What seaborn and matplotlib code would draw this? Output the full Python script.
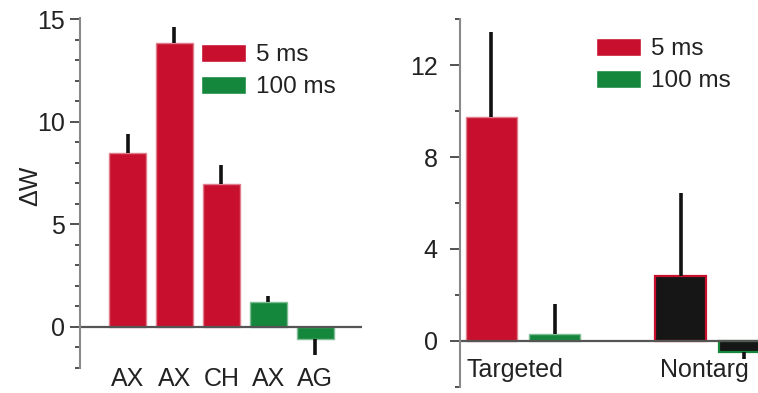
import numpy as np
import pandas as pd
import matplotlib
matplotlib.use("Agg")
import matplotlib.pyplot as plt
import seaborn as sns
from matplotlib.ticker import MultipleLocator
from matplotlib.transforms import ScaledTranslation
from matplotlib.colors import to_rgb

# ---------------- data ----------------
left_labels = ["AX", "AX", "CH", "AX", "AG"]
left_values = [8.45, 13.85, 6.95, 1.2, -0.6]
left_err = [0.95, 0.75, 0.95, 0.32, 0.76]
left_duration = ["5 ms", "5 ms", "5 ms", "100 ms", "100 ms"]

right_groups = ["Targeted", "Targeted", "Nontarg", "Nontarg"]
right_duration = ["5 ms", "100 ms", "5 ms", "100 ms"]
right_values = [9.75, 0.29, 2.84, -0.51]
right_err = [3.68, 1.31, 3.59, 0.28]

durations = ["5 ms", "100 ms"]
group_order = ["Targeted", "Nontarg"]

RED = "#C8102E"
GREEN = "#15873C"
palette = {"5 ms": RED, "100 ms": GREEN}
TXT = "#222222"

sns.set_theme(style="ticks")
plt.rcParams["font.family"] = ["Liberation Sans", "DejaVu Sans"]
plt.rcParams["text.color"] = TXT
plt.rcParams["axes.labelcolor"] = TXT
plt.rcParams["xtick.color"] = TXT
plt.rcParams["ytick.color"] = TXT

fig = plt.figure(figsize=(7.58, 3.93), dpi=100)
axL = fig.add_axes([80 / 758, 25 / 393, 282 / 758, 350 / 393])
axR = fig.add_axes([460 / 758, 6.3 / 393, 298 / 758, 367.4 / 393])

ldf = pd.DataFrame({"pos": list(range(len(left_values))), "value": left_values,
                    "duration": left_duration})
rdf = pd.DataFrame({"group": right_groups, "value": right_values,
                    "duration": right_duration})

sns.barplot(data=ldf, x="pos", y="value", hue="duration", hue_order=durations,
            palette=palette, dodge=False, width=0.79, errorbar=None,
            saturation=1, ax=axL)
sns.barplot(data=rdf, x="group", y="value", hue="duration", order=group_order,
            hue_order=durations, palette=palette, width=0.667, gap=0.19,
            errorbar=None, saturation=1, ax=axR)


def lighter(c, f=0.45):
    r, g, b = to_rgb(c)
    return (r + (1 - r) * f, g + (1 - g) * f, b + (1 - b) * f)


def sorted_bars(ax):
    bars = [b for c in ax.containers for b in c
            if np.isfinite(b.get_height()) and b.get_width() > 0]
    return sorted(bars, key=lambda b: b.get_x() + b.get_width() / 2)


def add_err(ax, bars, values, errs):
    for b, v, e in zip(bars, values, errs):
        x = b.get_x() + b.get_width() / 2
        yerr = [[0], [e]] if v >= 0 else [[e], [0]]
        ax.errorbar([x], [v], yerr=yerr, fmt="none", ecolor="#111111",
                    elinewidth=2.6, capsize=0, zorder=1)


barsL = sorted_bars(axL)
for b in barsL:
    b.set_edgecolor(lighter(b.get_facecolor()))
    b.set_linewidth(1.0)
add_err(axL, barsL, left_values, left_err)

barsR = sorted_bars(axR)
for b, g in zip(barsR, right_groups):
    fc = b.get_facecolor()
    if g == "Nontarg":
        b.set_edgecolor(fc)
        b.set_facecolor("#161616")
        b.set_linewidth(1.6)
    else:
        b.set_edgecolor(lighter(fc))
        b.set_linewidth(1.0)
add_err(axR, barsR, right_values, right_err)

# axes styling
for ax in (axL, axR):
    for s in ("top", "right", "bottom"):
        ax.spines[s].set_visible(False)
    ax.spines["left"].set_color("#8a8a8a")
    ax.spines["left"].set_linewidth(1.5)
    ax.axhline(0, color="#555555", lw=1.6, zorder=1.5)
    ax.tick_params(axis="y", which="major", direction="out", length=7,
                   width=1.2, colors="#333333", labelsize=18, labelcolor=TXT)
    ax.tick_params(axis="y", which="minor", direction="out", length=3.5,
                   width=1.2, colors="#333333")
    ax.set_xlabel("")

axL.set_ylim(-2, 15.05)
axL.set_xlim(-1.013, 5.0)
axL.yaxis.set_major_locator(MultipleLocator(5))
axL.yaxis.set_minor_locator(MultipleLocator(1))
axL.tick_params(axis="y", which="major", pad=3.8)
axL.set_xticks(range(len(left_labels)))
axL.set_xticklabels(left_labels)
axL.tick_params(axis="x", length=0, pad=-0.5, labelsize=18, labelcolor=TXT)
axL.set_ylabel("ΔW", fontsize=18)
axL.yaxis.set_label_coords(-0.135, 0.52)

axR.set_ylim(-2, 14)
axR.set_xlim(-0.332, 1.240)
axR.yaxis.set_major_locator(MultipleLocator(4))
axR.yaxis.set_minor_locator(MultipleLocator(2))
axR.tick_params(axis="y", which="major", pad=9.0)
axR.set_ylabel("")
axR.tick_params(axis="x", length=0, pad=-20.5, labelsize=18, labelcolor=TXT)

# legends
for ax, anchor in ((axL, (201 / 758, 1 - 44 / 393)), (axR, (596 / 758, 1 - 38 / 393))):
    h, l = ax.get_legend_handles_labels()
    ax.legend(h, l, loc="upper left", bbox_to_anchor=anchor,
              bbox_transform=fig.transFigure, frameon=False, fontsize=17.5,
              handlelength=1.85, handleheight=0.75, handletextpad=0.4,
              labelspacing=0.4, borderpad=0, borderaxespad=0)

for lab in axR.get_xticklabels():
    lab.set_transform(lab.get_transform() + ScaledTranslation(-0.08, 0, fig.dpi_scale_trans))

fig.savefig("out.png", dpi=100)
